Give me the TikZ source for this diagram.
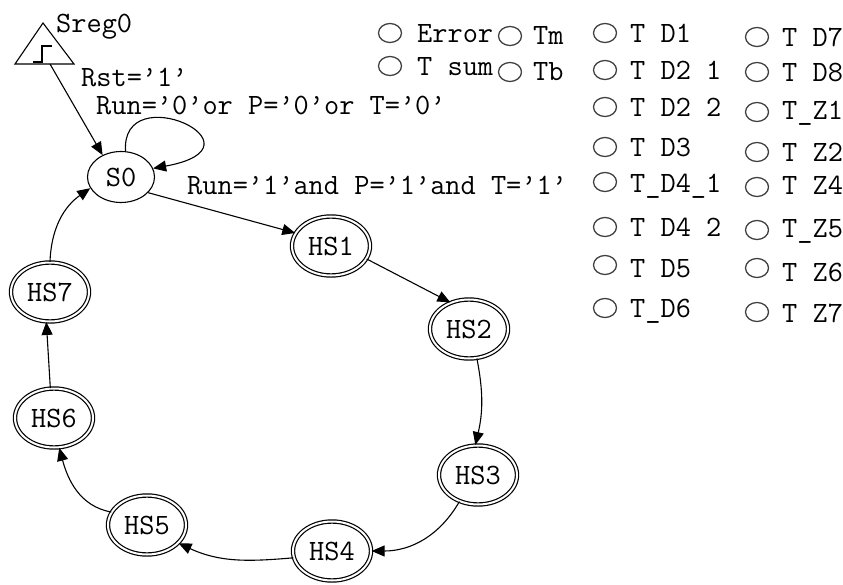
\documentclass[tikz,border=0pt]{standalone}
\usepackage{fontspec}
\usetikzlibrary{shapes.geometric,arrows.meta}
\begin{document}
\begin{tikzpicture}[x=1pt,y=-1pt,
  txt/.style={font=\ttfamily\fontsize{29.5}{32}\selectfont, inner sep=0pt},
  st/.style={ellipse, draw, line width=1.2pt, double, double distance=2pt, minimum width=78pt, minimum height=59pt, inner sep=0pt, font=\ttfamily\fontsize{29.5}{32}\selectfont},
  init/.style={ellipse, draw, line width=1.1pt, minimum width=67pt, minimum height=51pt, inner sep=0pt, font=\ttfamily\fontsize{29.5}{32}\selectfont},
  lamp/.style={ellipse, draw=black!75, line width=1.3pt, minimum width=23pt, minimum height=19pt, inner sep=0pt},
  tr/.style={-{Triangle[length=13pt,width=11pt]}, line width=1.1pt},
]
\useasboundingbox (0,0) rectangle (843,585);

% reset triangle
\draw[line width=1.1pt] (15,64) -- (74,64) -- (43,23) -- cycle;
\draw[line width=1.1pt] (33,62) -- (42,62) -- (42,46) -- (52,46);
\coordinate (rstout) at (50,64);
\node[txt, anchor=base west] (sreg) at (56,33) {Sreg0};

% states
\node[init] (S0) at (121,177) {S0};
\node[st] (HS1) at (331,246) {HS1};
\node[st] (HS2) at (469,329) {HS2};
\node[st] (HS3) at (478,475) {HS3};
\node[st] (HS4) at (332,551) {HS4};
\node[st] (HS5) at (147,525) {HS5};
\node[st] (HS6) at (54,418) {HS6};
\node[st] (HS7) at (50,292) {HS7};

% labels
\node[txt, anchor=base west] (lrst) at (81,87) {Rst=’1’};
\node[txt, anchor=base west] (lloop) at (96,115) {Run=’0’or P=’0’or T=’0’};
\node[txt, anchor=base west] (lgo) at (187,195) {Run=’1’and P=’1’and T=’1’};

% transitions
\draw[tr] (rstout) -- (S0.130);
\draw[tr] (S0.80) .. controls +(-5,-75) and +(120,-22) .. (S0.15);
\draw[tr] (S0.-30) -- (HS1.160);
\draw[tr] (HS1.-20) -- (HS2.125);
\draw[tr] (HS2.-75) to[bend left=12] (HS3.95);
\draw[tr] (HS3.235) to[out=240,in=0] (HS4.east);
\draw[tr] (HS4.190) to[out=185,in=-25] (HS5.-30);
\draw[tr] (HS5.160) to[out=170,in=-75] (HS6.-80);
\draw[tr] (HS6.97) -- (HS7.-97);
\draw[tr] (HS7.north) to[out=88,in=215] (S0.200);

% legend
\node[lamp] (cErr) at (390,33) {};
\node[txt, anchor=base west] (tErr) at (417,43) {Error};
\node[lamp] (cSum) at (390,66) {};
\node[txt, anchor=base west] (tSum) at (417,76) {T sum};
\node[lamp] (cTm) at (510,36) {};
\node[txt, anchor=base west] (tTm) at (533,45) {Tm};
\node[lamp] (cTb) at (510,72) {};
\node[txt, anchor=base west] (tTb) at (533,81) {Tb};

\node[lamp] (c31) at (605,33) {};  \node[txt, anchor=base west] (t31) at (630,43) {T D1};
\node[lamp] (c32) at (605,70) {};  \node[txt, anchor=base west] (t32) at (630,80) {T D2 1};
\node[lamp] (c33) at (605,107) {}; \node[txt, anchor=base west] (t33) at (630,117) {T D2 2};
\node[lamp] (c34) at (605,147) {}; \node[txt, anchor=base west] (t34) at (630,157) {T D3};
\node[lamp] (c35) at (605,182) {}; \node[txt, anchor=base west] (t35) at (630,193) {T\_D4\_1};
\node[lamp] (c36) at (605,227) {}; \node[txt, anchor=base west] (t36) at (630,237) {T D4 2};
\node[lamp] (c37) at (605,265) {}; \node[txt, anchor=base west] (t37) at (630,277) {T D5};
\node[lamp] (c38) at (605,308) {}; \node[txt, anchor=base west] (t38) at (630,317) {T\_D6};

\node[lamp] (c41) at (757,37) {};  \node[txt, anchor=base west] (t41) at (782,47) {T D7};
\node[lamp] (c42) at (757,72) {};  \node[txt, anchor=base west] (t42) at (782,82) {T D8};
\node[lamp] (c43) at (757,112) {}; \node[txt, anchor=base west] (t43) at (782,120) {T\_Z1};
\node[lamp] (c44) at (757,152) {}; \node[txt, anchor=base west] (t44) at (782,162) {T Z2};
\node[lamp] (c45) at (757,187) {}; \node[txt, anchor=base west] (t45) at (782,195) {T Z4};
\node[lamp] (c46) at (757,230) {}; \node[txt, anchor=base west] (t46) at (782,238) {T\_Z5};
\node[lamp] (c47) at (757,268) {}; \node[txt, anchor=base west] (t47) at (782,282) {T Z6};
\node[lamp] (c48) at (757,312) {}; \node[txt, anchor=base west] (t48) at (782,322) {T Z7};
\end{tikzpicture}
\end{document}
